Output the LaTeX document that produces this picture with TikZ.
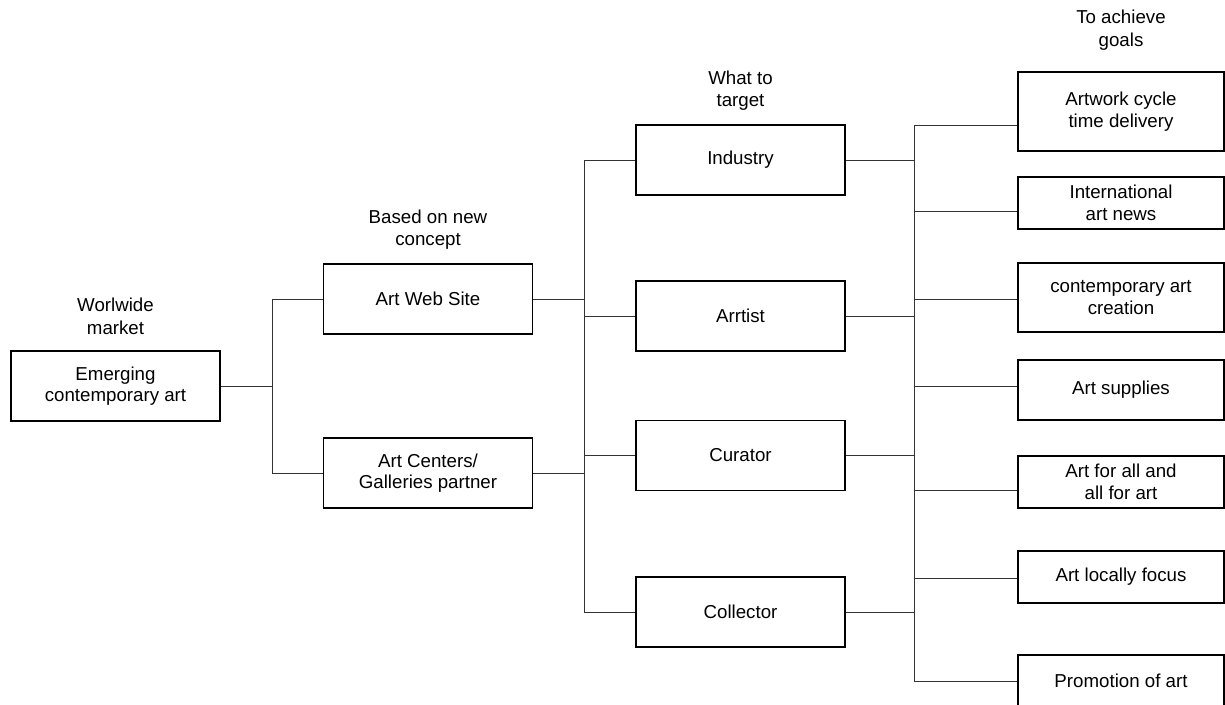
\documentclass[tikz,border=0pt]{standalone}
\usepackage{fontspec}
\setmainfont{Liberation Sans}
\begin{document}
\begin{tikzpicture}[x=1pt,y=-1pt,
  box/.style={draw=black, line width=1.3pt, inner sep=0pt, align=center,
    font=\fontsize{18.7}{21.5}\selectfont},
  lbox/.style={box, minimum width=209pt, minimum height=70pt},
  gbox/.style={box, minimum width=206pt},
  lbl/.style={inner sep=0pt, align=center, font=\fontsize{18.7}{22.5}\selectfont},
  conn/.style={draw=black!80, line width=0.9pt}]
\useasboundingbox (0,0) rectangle (1225,704);
\clip (0,0) rectangle (1225,704);
% level 1
\node[lbox] (em) at (115.5,386) {Emerging\\contemporary art};
% level 2
\node[lbox] (aws) at (428,299) {Art Web Site};
\node[lbox] (acg) at (428,473) {Art Centers/\\Galleries partner};
% level 3
\node[lbox] (ind) at (740.5,160) {Industry};
\node[lbox] (arr) at (740.5,316) {Arrtist};
\node[lbox] (cur) at (740.5,455.5) {Curator};
\node[lbox] (col) at (740.5,612) {Collector};
% goals
\node[gbox, minimum height=79pt] (g1) at (1121,111.5) {Artwork cycle\\time delivery};
\node[gbox, minimum height=52pt] (g2) at (1121,203) {International\\art news};
\node[gbox, minimum height=69pt] (g3) at (1121,297.5) {contemporary art\\creation};
\node[gbox, minimum height=60pt] (g4) at (1121,390) {Art supplies};
\node[gbox, minimum height=52pt] (g5) at (1121,482) {Art for all and\\all for art};
\node[gbox, minimum height=52pt] (g6) at (1121,577) {Art locally focus};
\node[gbox, minimum height=52pt] (g7) at (1121,681) {Promotion of art};
% column labels
\node[lbl] (l1) at (115.5,316.5) {Worlwide\\market};
\node[lbl] (l2) at (428,229.5) {Based on new\\concept};
\node[lbl] (l3) at (740.5,90.5) {What to\\target};
\node[lbl] (l4) at (1121,30) {To achieve\\goals};
% bus positions
\coordinate (b1) at (272,0);
\coordinate (b2) at (584,0);
\coordinate (b3) at (914,0);
% level 1 -> level 2
\draw[conn] (em.east) -- (em.east -| b1);
\draw[conn] (aws.west) -- (aws.west -| b1) -- (acg.west -| b1) -- (acg.west);
% level 2 -> level 3
\draw[conn] (aws.east) -- (aws.east -| b2);
\draw[conn] (acg.east) -- (acg.east -| b2);
\draw[conn] (ind.west -| b2) -- (col.west -| b2);
\foreach \n in {ind,arr,cur,col} \draw[conn] (\n.west) -- (\n.west -| b2);
% level 3 -> goals
\foreach \n in {ind,arr,cur,col} \draw[conn] (\n.east) -- (\n.east -| b3);
\coordinate (t1) at ([yshift=-13.5pt]g1.west);
\coordinate (t2) at ([yshift=-8pt]g2.west);
\coordinate (t3) at ([yshift=-1.5pt]g3.west);
\coordinate (t4) at ([yshift=4pt]g4.west);
\coordinate (t5) at ([yshift=-8pt]g5.west);
\coordinate (t6) at ([yshift=-1pt]g6.west);
\coordinate (t7) at (g7.west);
\draw[conn] (t1 -| b3) -- (t7 -| b3);
\foreach \t in {t1,t2,t3,t4,t5,t6,t7} \draw[conn] (\t) -- (\t -| b3);
\end{tikzpicture}
\end{document}
